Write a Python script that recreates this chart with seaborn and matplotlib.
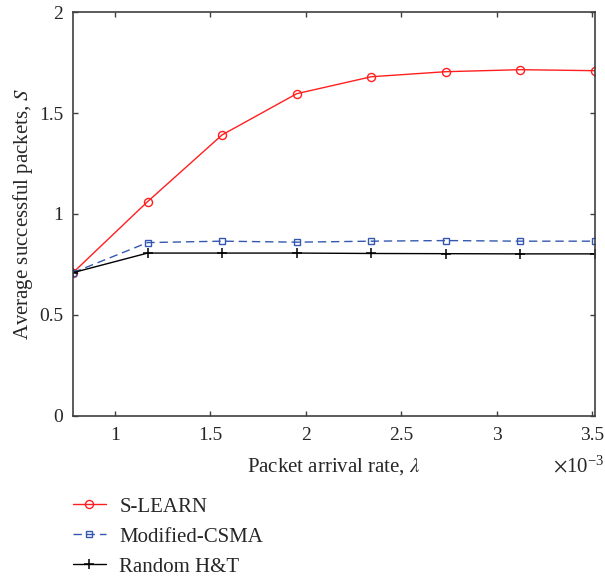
import matplotlib
matplotlib.use("Agg")
import matplotlib.pyplot as plt
from matplotlib.ticker import ScalarFormatter
import seaborn as sns
import pandas as pd

# Packet arrival rate (x 1e-3) and average successful packets per scheme
arrival_rate = [0.78125, 1.171875, 1.5625, 1.953125, 2.34375, 2.734375, 3.125, 3.515625]
s_learn = [0.709, 1.061, 1.392, 1.596, 1.680, 1.705, 1.715, 1.710]
modified_csma = [0.709, 0.858, 0.865, 0.860, 0.865, 0.868, 0.865, 0.865]
random_ht = [0.709, 0.806, 0.806, 0.806, 0.804, 0.803, 0.802, 0.802]

x_ticks = [1.0, 1.5, 2.0, 2.5, 3.0, 3.5]
y_ticks = [0, 0.5, 1, 1.5, 2]
y_tick_labels = ["0", "0.5", "1", "1.5", "2"]

sns.set_style("ticks")
plt.rcParams["font.family"] = ["Liberation Serif", "DejaVu Serif"]
plt.rcParams["mathtext.fontset"] = "stix"


class PlainSciFormatter(ScalarFormatter):
    """Scientific offset on the axis, tick values written as plain %g."""
    def _set_format(self):
        self.format = "%g"


df = pd.DataFrame({
    "rate": [v * 1e-3 for v in arrival_rate] * 3,
    "S": s_learn + modified_csma + random_ht,
    "scheme": ["S-LEARN"] * 8 + ["Modified-CSMA"] * 8 + ["Random H&T"] * 8,
})

fig = plt.figure(figsize=(6.05, 5.8), dpi=100)
ax = fig.add_axes([0.1207, 0.2833, 0.8628, 0.6957])

red, blue = "#ff1f1f", "#3458b0"
styles = {
    "S-LEARN": dict(color=red, marker="o", linestyle="-", markersize=5.8,
                    mfc="none", mec=red, mew=1.0),
    "Modified-CSMA": dict(color=blue, marker="s", linestyle=(0, (6, 3.5)), markersize=4.8,
                          mfc="none", mec=blue, mew=1.0),
    "Random H&T": dict(color="black", marker="+", linestyle="-", markersize=6.5,
                       mec="black", mew=1.1),
}
for name, kw in styles.items():
    sub = df[df["scheme"] == name]
    sns.lineplot(data=sub, x="rate", y="S", ax=ax, label=name, linewidth=1.0,
                 legend=False, **kw)

ax.set_xlim(arrival_rate[0] * 1e-3, arrival_rate[-1] * 1e-3)
ax.set_ylim(0, 2)
ax.set_xticks([t * 1e-3 for t in x_ticks])
ax.set_yticks(y_ticks)
ax.set_yticklabels(y_tick_labels)

fmt = PlainSciFormatter(useMathText=True)
fmt.set_powerlimits((0, 0))
ax.xaxis.set_major_formatter(fmt)

ax.tick_params(direction="in", top=True, right=True, length=3.5, width=1,
               color="#404040", labelsize=14)
ax.tick_params(axis="x", pad=8)
ax.tick_params(axis="y", pad=7)
for sp in ax.spines.values():
    sp.set_visible(True)
    sp.set_color("#404040")
    sp.set_linewidth(1.2)

ax.set_xlabel(r"Packet arrival rate, $\lambda$", fontsize=15, labelpad=9)
ax.set_ylabel(r"Average successful packets, $S$", fontsize=15, labelpad=3)

offset = ax.xaxis.get_offset_text()
offset.set_fontsize(15)
offset.set_x(1.018)
ax.xaxis.OFFSETTEXTPAD = 9

handles, labels = ax.get_legend_handles_labels()
fig.legend(handles, labels, loc="upper left", bbox_to_anchor=(0.12, 0.143),
           frameon=False, fontsize=15, handlelength=1.6, handletextpad=0.65,
           labelspacing=0.5, borderaxespad=0, borderpad=0)

fig.savefig("out.png", dpi=100)
